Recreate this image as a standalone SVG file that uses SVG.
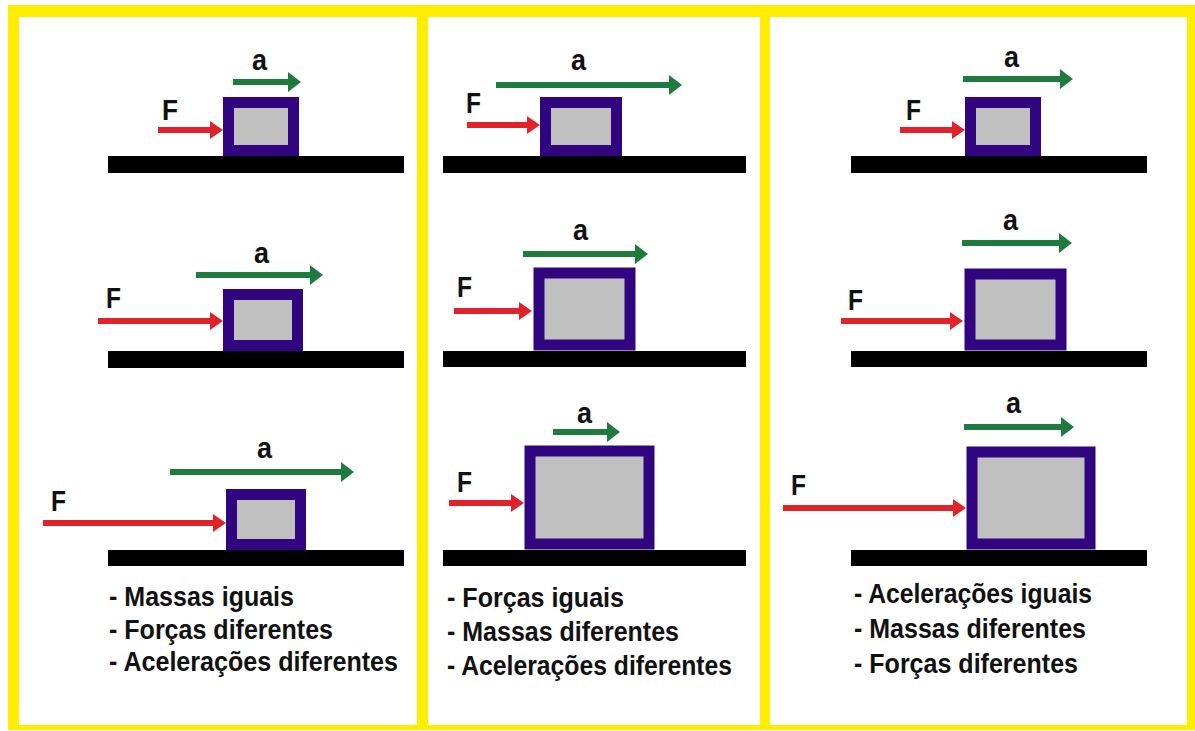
<svg xmlns="http://www.w3.org/2000/svg" width="1195" height="731" viewBox="0 0 1195 731">
  <style>
    .frame { fill: #ffee00; }
    .panel { fill: #ffffff; }
    .ground { fill: #000000; }
    .block { fill: #c0c0c0; stroke: #31057f; stroke-width: 11; }
    .force { stroke: #e0232a; stroke-width: 6; fill: none; marker-end: url(#headF); }
    .accel { stroke: #1e7b3d; stroke-width: 6; fill: none; marker-end: url(#headA); }
    .lbl { font-family: "Liberation Sans", Arial, sans-serif; font-weight: bold; font-size: 29px; fill: #111111; }
    .note { font-family: "Liberation Sans", Arial, sans-serif; font-weight: bold; font-size: 27px; fill: #111111; }
  </style>
  <defs>
    <marker id="headF" markerUnits="userSpaceOnUse" markerWidth="14" markerHeight="20" refX="1" refY="9" orient="auto">
      <path d="M0,0 L13,9 L0,18 Z" fill="#e0232a"/>
    </marker>
    <marker id="headA" markerUnits="userSpaceOnUse" markerWidth="14" markerHeight="22" refX="1" refY="10" orient="auto">
      <path d="M0,0 L13,10 L0,20 Z" fill="#1e7b3d"/>
    </marker>
  </defs>

  <!-- background and yellow frame with three white panels -->
  <rect x="0" y="0" width="1195" height="731" fill="#ffffff"/>
  <rect class="frame" x="8" y="5" width="1187" height="725"/>
  <rect class="panel" x="19" y="17" width="398" height="708"/>
  <rect class="panel" x="428" y="17" width="332" height="708"/>
  <rect class="panel" x="770" y="17" width="417" height="708"/>

  <!-- Panel 1: equal masses -->
  <g id="p1-row1">
    <rect class="ground" x="108" y="156" width="296" height="17"/>
    <rect class="block" x="228.5" y="102.5" width="65" height="48"/>
    <text class="lbl" x="162" y="120" textLength="16" lengthAdjust="spacingAndGlyphs">F</text>
    <text class="lbl" x="252" y="70" textLength="15" lengthAdjust="spacingAndGlyphs">a</text>
  </g>
  <g id="p1-row2">
    <rect class="ground" x="108" y="351" width="296" height="17"/>
    <rect class="block" x="228.5" y="294.5" width="69" height="51"/>
    <text class="lbl" x="106" y="308" textLength="15" lengthAdjust="spacingAndGlyphs">F</text>
    <text class="lbl" x="254" y="263" textLength="15" lengthAdjust="spacingAndGlyphs">a</text>
  </g>
  <g id="p1-row3">
    <rect class="ground" x="108" y="550" width="296" height="16"/>
    <rect class="block" x="231.5" y="494.5" width="69" height="50"/>
    <text class="lbl" x="51" y="511" textLength="15" lengthAdjust="spacingAndGlyphs">F</text>
    <text class="lbl" x="257" y="458" textLength="15" lengthAdjust="spacingAndGlyphs">a</text>
  </g>
  <g id="p1-notes">
    <text class="note" x="109" y="606" textLength="185" lengthAdjust="spacingAndGlyphs">- Massas iguais</text>
    <text class="note" x="109" y="639" textLength="224" lengthAdjust="spacingAndGlyphs">- Forças diferentes</text>
    <text class="note" x="109" y="671" textLength="289" lengthAdjust="spacingAndGlyphs">- Acelerações diferentes</text>
  </g>

  <!-- Panel 2: equal forces -->
  <g id="p2-row1">
    <rect class="ground" x="443" y="156" width="303" height="17"/>
    <rect class="block" x="545.5" y="102.5" width="71" height="48"/>
    <text class="lbl" x="466" y="113" textLength="15" lengthAdjust="spacingAndGlyphs">F</text>
    <text class="lbl" x="571" y="70" textLength="15" lengthAdjust="spacingAndGlyphs">a</text>
  </g>
  <g id="p2-row2">
    <rect class="ground" x="443" y="351" width="303" height="16"/>
    <rect class="block" x="539" y="273" width="91" height="72"/>
    <text class="lbl" x="457" y="297" textLength="15" lengthAdjust="spacingAndGlyphs">F</text>
    <text class="lbl" x="573" y="240" textLength="15" lengthAdjust="spacingAndGlyphs">a</text>
  </g>
  <g id="p2-row3">
    <rect class="ground" x="443" y="550" width="303" height="16"/>
    <rect class="block" x="530" y="451" width="119" height="93"/>
    <text class="lbl" x="457" y="492" textLength="15" lengthAdjust="spacingAndGlyphs">F</text>
    <text class="lbl" x="577" y="423" textLength="15" lengthAdjust="spacingAndGlyphs">a</text>
  </g>
  <g id="p2-notes">
    <text class="note" x="447" y="607" textLength="177" lengthAdjust="spacingAndGlyphs">- Forças iguais</text>
    <text class="note" x="447" y="641" textLength="232" lengthAdjust="spacingAndGlyphs">- Massas diferentes</text>
    <text class="note" x="447" y="675" textLength="285" lengthAdjust="spacingAndGlyphs">- Acelerações diferentes</text>
  </g>

  <!-- Panel 3: equal accelerations -->
  <g id="p3-row1">
    <rect class="ground" x="851" y="156" width="296" height="17"/>
    <rect class="block" x="970.5" y="102.5" width="65" height="48"/>
    <text class="lbl" x="906" y="120" textLength="15" lengthAdjust="spacingAndGlyphs">F</text>
    <text class="lbl" x="1004" y="67" textLength="15" lengthAdjust="spacingAndGlyphs">a</text>
  </g>
  <g id="p3-row2">
    <rect class="ground" x="851" y="351" width="296" height="16"/>
    <rect class="block" x="970" y="274" width="91" height="71"/>
    <text class="lbl" x="848" y="310" textLength="15" lengthAdjust="spacingAndGlyphs">F</text>
    <text class="lbl" x="1003" y="230" textLength="15" lengthAdjust="spacingAndGlyphs">a</text>
  </g>
  <g id="p3-row3">
    <rect class="ground" x="851" y="550" width="296" height="16"/>
    <rect class="block" x="972" y="452" width="118" height="92"/>
    <text class="lbl" x="791" y="495" textLength="15" lengthAdjust="spacingAndGlyphs">F</text>
    <text class="lbl" x="1006" y="413" textLength="15" lengthAdjust="spacingAndGlyphs">a</text>
  </g>
  <g id="p3-notes">
    <text class="note" x="854" y="603" textLength="238" lengthAdjust="spacingAndGlyphs">- Acelerações iguais</text>
    <text class="note" x="854" y="638" textLength="232" lengthAdjust="spacingAndGlyphs">- Massas diferentes</text>
    <text class="note" x="854" y="673" textLength="224" lengthAdjust="spacingAndGlyphs">- Forças diferentes</text>
  </g>

  <!-- force (red) and acceleration (green) vectors -->
  <g id="vectors">
    <line class="force" x1="158" y1="130" x2="211" y2="130"/>
    <line class="accel" x1="233" y1="82" x2="289" y2="82"/>
    <line class="force" x1="98" y1="321" x2="211" y2="321"/>
    <line class="accel" x1="196" y1="275" x2="311" y2="275"/>
    <line class="force" x1="43" y1="523" x2="214" y2="523"/>
    <line class="accel" x1="170" y1="472" x2="342" y2="472"/>

    <line class="force" x1="467" y1="125" x2="528" y2="125"/>
    <line class="accel" x1="496" y1="85" x2="670" y2="85"/>
    <line class="force" x1="454" y1="311" x2="520" y2="311"/>
    <line class="accel" x1="523" y1="254" x2="636" y2="254"/>
    <line class="force" x1="449" y1="503" x2="512" y2="503"/>
    <line class="accel" x1="553" y1="432" x2="608" y2="432"/>

    <line class="force" x1="900" y1="130" x2="953" y2="130"/>
    <line class="accel" x1="963" y1="79" x2="1061" y2="79"/>
    <line class="force" x1="841" y1="321" x2="951" y2="321"/>
    <line class="accel" x1="962" y1="243" x2="1060" y2="243"/>
    <line class="force" x1="783" y1="508" x2="954" y2="508"/>
    <line class="accel" x1="964" y1="427" x2="1062" y2="427"/>
  </g>
</svg>
